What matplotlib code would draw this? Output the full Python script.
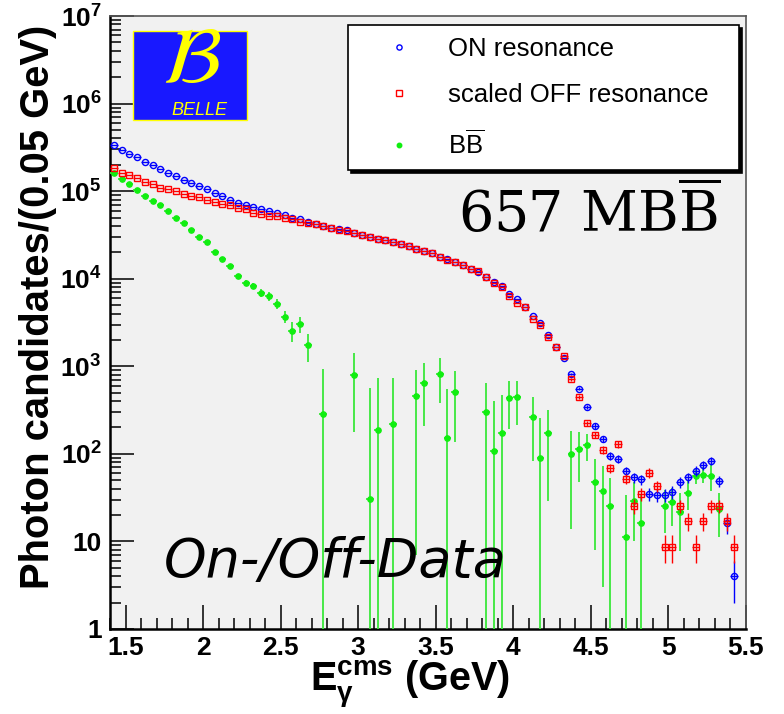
import numpy as np
import matplotlib
matplotlib.use("Agg")
import matplotlib.pyplot as plt
from matplotlib import font_manager
from matplotlib.ticker import FixedLocator, FixedFormatter, LogLocator, MultipleLocator, NullFormatter
from matplotlib.patches import Rectangle

# ---------------- data ----------------
bin_width = 0.05
e_min, e_max = 1.4, 5.5
energy = np.round(np.arange(e_min + bin_width / 2, e_max, bin_width), 3)  # 82 bin centres

on_res = [3.35e5, 2.96e5, 2.69e5, 2.44e5, 2.18e5, 1.97e5, 1.80e5, 1.63e5, 1.50e5, 1.35e5,
          1.23e5, 1.13e5, 1.05e5, 9.6e4, 8.7e4, 7.9e4, 7.35e4, 6.9e4, 6.6e4, 6.2e4,
          5.9e4, 5.6e4, 5.3e4, 5.0e4, 4.75e4, 4.5e4, 4.2e4, 3.95e4, 3.8e4, 3.65e4,
          3.56e4, 3.29e4, 3.17e4, 2.98e4, 2.83e4, 2.76e4, 2.6e4, 2.48e4, 2.37e4, 2.18e4,
          2.07e4, 1.98e4, 1.78e4, 1.66e4, 1.55e4, 1.42e4, 1.29e4, 1.2e4, 1.05e4, 9.1e3,
          8.2e3, 6.7e3, 5.8e3, 4.8e3, 3.8e3, 3.09e3, 2.3e3, 1.64e3, 1.24e3, 815,
          553, 345, 209, 149, 94, 88, 63, 54, 51, 34.8,
          34, 34, 36.9, 47.3, 54, 64, 74.5, 82.7, 48.9, 16.3,
          4.0, np.nan]
on_err_tail = [25, 23, 19, 15, 12, 10, 9, 8, 7, 7, 6, 6, 6, 6, 7, 7, 8, 9, 9, 7, 4, 2, 0]

off_res = [1.82e5, 1.63e5, 1.52e5, 1.41e5, 1.28e5, 1.21e5, 1.09e5, 1.06e5, 1.01e5, 9.24e4,
           8.8e4, 8.47e4, 7.83e4, 7.55e4, 7.1e4, 6.9e4, 6.45e4, 6.18e4, 5.7e4, 5.46e4,
           5.27e4, 5.14e4, 4.92e4, 4.79e4, 4.46e4, 4.35e4, 4.17e4,
           3.97e4, 3.82e4, 3.63e4, 3.54e4, 3.31e4, 3.15e4, 2.99e4, 2.85e4, 2.74e4, 2.61e4,
           2.47e4, 2.36e4, 2.2e4, 2.06e4, 1.97e4, 1.77e4, 1.64e4, 1.55e4, 1.43e4, 1.28e4,
           1.21e4, 1.04e4, 8.9e3, 8.1e3,
           6.3e3, 5.3e3, 4.7e3, 3.5e3, 3.0e3, 2.15e3, 1.64e3, 1.31e3, 710, 449,
           223, 163, 111, 69, 128, 52, 25.6, 34.8, 61, 43,
           8.7, 8.7, 25.6, 17.1, 8.7, 17.1, 25.6, 25.6, 17.1, 8.7, np.nan]
off_err_tail = [27, 21, 15, 13, 10.5, 8.3, 11, 7, 5, 6, 8, 6.5, 3, 3, 4.5, 4, 3, 4, 4.5, 4.5, 4, 3, 0]

bbbar = [1.62e5, 1.38e5, 1.20e5, 1.03e5, 8.9e4, 7.75e4, 6.98e4, 5.86e4, 5.0e4, 4.28e4,
         3.61e4, 2.96e4, 2.62e4, 2.03e4, 1.69e4, 1.39e4, 1.07e4, 8.98e3, 8.24e3, 6.9e3,
         6.3e3, 5.2e3, 3.67e3, 2.52e3, 3.05e3, 1.73e3, np.nan, 287, np.nan, np.nan,
         np.nan, 800, np.nan, 30.5, 187, np.nan, 219, np.nan, np.nan, 457,
         648, np.nan, 815, 150, 512, np.nan, np.nan, np.nan, 303, 108,
         171, 433, 445, np.nan, 265, 89, 171, np.nan, np.nan, 99,
         113, 125, 48, 38, 25.6, np.nan, 11.1, 29, 16.3, np.nan,
         np.nan, 25.4, 28, 21.8, 36, 56, 58, 56, 23.3, np.nan,
         np.nan, np.nan]
bbbar_err = [1250, 1180, 1140, 1090, 1040, 1000, 960, 940, 910, 880,
             860, 840, 810, 790, 770, 760, 740, 720, 700, 680,
             670, 660, 560, 650, 640, 620, 0, 640, 0, 0,
             0, 620, 0, 530, 550, 0, 520, 0, 0, 450,
             440, 0, 430, 400, 375, 0, 0, 0, 335, 295,
             298, 240, 230, 0, 182, 165, 142, 0, 0, 85,
             65, 42, 40, 35, 28, 0, 23, 19, 18, 0,
             0, 13, 13, 14, 13, 11, 12, 18, 12, 0,
             0, 0]

y_ticks = [1, 10, 1e2, 1e3, 1e4, 1e5, 1e6, 1e7]
y_tick_labels = ["1", "10", r"$\mathbf{10^{2}}$", r"$\mathbf{10^{3}}$", r"$\mathbf{10^{4}}$",
                 r"$\mathbf{10^{5}}$", r"$\mathbf{10^{6}}$", r"$\mathbf{10^{7}}$"]
x_ticks = [1.5, 2.0, 2.5, 3.0, 3.5, 4.0, 4.5, 5.0, 5.5]
x_tick_labels = ["1.5", "2", "2.5", "3", "3.5", "4", "4.5", "5", "5.5"]
series_labels = ["ON resonance", "scaled OFF resonance", r"B$\overline{\mathrm{B}}$"]

# ---------------- style ----------------
names = {f.name for f in font_manager.fontManager.ttflist}
sans = "Liberation Sans" if "Liberation Sans" in names else "DejaVu Sans"
plt.rcParams["font.family"] = [sans, "DejaVu Sans"]
plt.rcParams["mathtext.fontset"] = "custom"
plt.rcParams["mathtext.rm"] = sans
plt.rcParams["mathtext.bf"] = sans + ":bold"
plt.rcParams["mathtext.it"] = sans + ":italic"
plt.rcParams["mathtext.sf"] = sans

energy = np.asarray(energy)
on = np.asarray(on_res, float)
off = np.asarray(off_res, float)
bb = np.asarray(bbbar, float)
on_err = np.concatenate([np.zeros(len(on) - len(on_err_tail)), on_err_tail])
off_err = np.concatenate([np.zeros(len(off) - len(off_err_tail)), off_err_tail])
bb_err = np.asarray(bbbar_err, float)


def asym(y, e):
    lo = np.where(y - e > 0, e, y - 1e-2)
    return np.vstack([lo, e])


fig = plt.figure(figsize=(7.84, 7.14), dpi=100)
ax = fig.add_axes([110 / 784, 85 / 714, 636 / 784, 613 / 714])
ax.set_facecolor("#f1f1f1")

green = "#10ee10"
eb_bb = ax.errorbar(energy, bb, yerr=asym(bb, bb_err), xerr=bin_width / 2, fmt="o",
                    ms=3.8, color=green, mec=green, mfc=green, ecolor="#3ae83a",
                    elinewidth=1.3, capsize=0, zorder=3)
eb_on = ax.errorbar(energy, on, yerr=asym(on, on_err), xerr=bin_width / 2, fmt="o",
                    ms=4.4, mfc="none", mec="#0000ff", mew=1.0, ecolor="#0000ff",
                    elinewidth=1.0, capsize=0, zorder=4)
eb_off = ax.errorbar(energy, off, yerr=asym(off, off_err), xerr=bin_width / 2, fmt="s",
                     ms=4.4, mfc="none", mec="#ff0000", mew=1.0, ecolor="#ff0000",
                     elinewidth=1.0, capsize=0, zorder=5)

ax.set_yscale("log")
ax.set_xlim(e_min, e_max)
ax.set_ylim(1, 1e7)

ax.yaxis.set_major_locator(FixedLocator(y_ticks))
ax.yaxis.set_major_formatter(FixedFormatter(y_tick_labels))
ax.yaxis.set_minor_locator(LogLocator(base=10, subs=np.arange(2, 10)))
ax.yaxis.set_minor_formatter(NullFormatter())
ax.xaxis.set_major_locator(FixedLocator(x_ticks))
ax.xaxis.set_major_formatter(FixedFormatter(x_tick_labels))
ax.xaxis.set_minor_locator(MultipleLocator(0.1))

ax.tick_params(which="both", direction="in", top=False, right=False, width=1.1, color="black")
ax.tick_params(which="major", length=17)
ax.tick_params(which="minor", length=8)
ax.tick_params(axis="x", which="major", labelsize=19, pad=5)
ax.tick_params(axis="y", which="major", labelsize=19, pad=6)
for lab in ax.get_xticklabels() + ax.get_yticklabels():
    lab.set_fontweight("bold")

for s in ["left", "bottom"]:
    ax.spines[s].set_linewidth(1.8)
    ax.spines[s].set_color("black")
for s in ["top", "right"]:
    ax.spines[s].set_linewidth(1.2)
    ax.spines[s].set_color("#555555")

ax.set_ylabel("Photon candidates/(0.05 GeV)", fontsize=28.8, fontweight="bold")
ax.yaxis.set_label_coords(-0.113, 0.525)
ax.yaxis.label.set_va("center")
ax.set_xlabel(r"$\mathbf{E_{\gamma}^{cms}}$ (GeV)", fontsize=28.5, fontweight="bold")
ax.xaxis.set_label_coords(0.472, -0.049)
ax.xaxis.label.set_va("top")

# legend
leg = ax.legend([eb_on[0], eb_off[0], eb_bb[0]], series_labels, loc="upper left",
                bbox_to_anchor=(0.374, 0.747, 0.615, 0.238), mode="expand", borderaxespad=0,
                numpoints=1, fontsize=18.5, frameon=True, fancybox=False, framealpha=1,
                edgecolor="black", facecolor="white", borderpad=0.45, labelspacing=0.88,
                handlelength=3.1, handletextpad=0.35, markerscale=0.85,
                shadow={"color": "black", "alpha": 1.0})
leg.get_frame().set_linewidth(1.2)
leg.set_zorder(10)

# annotations
ax.text(0.547, 0.648, r"$\mathrm{657\ MB\overline{B}}$", transform=ax.transAxes,
        fontsize=40, math_fontfamily="dejavuserif", ha="left", va="baseline", zorder=6)
ax.text(0.085, 0.085, "On-/Off-Data", transform=ax.transAxes, fontsize=39,
        family="DejaVu Sans", style="oblique", ha="left", va="baseline", zorder=6)

# Belle logo
ax.add_patch(Rectangle((0.036, 0.830), 0.179, 0.146, transform=ax.transAxes,
                       facecolor="#1818ff", edgecolor="#ffff00", lw=1.0, zorder=7))
ax.text(0.128, 0.925, r"$\mathcal{B}$", transform=ax.transAxes, fontsize=58,
        math_fontfamily="stix", color="#ffff00", ha="center", va="center", zorder=8)
ax.text(0.14, 0.846, "BELLE", transform=ax.transAxes, fontsize=13, style="italic",
        color="#ffff00", ha="center", va="center", zorder=8)

fig.savefig("out.png", dpi=100)
